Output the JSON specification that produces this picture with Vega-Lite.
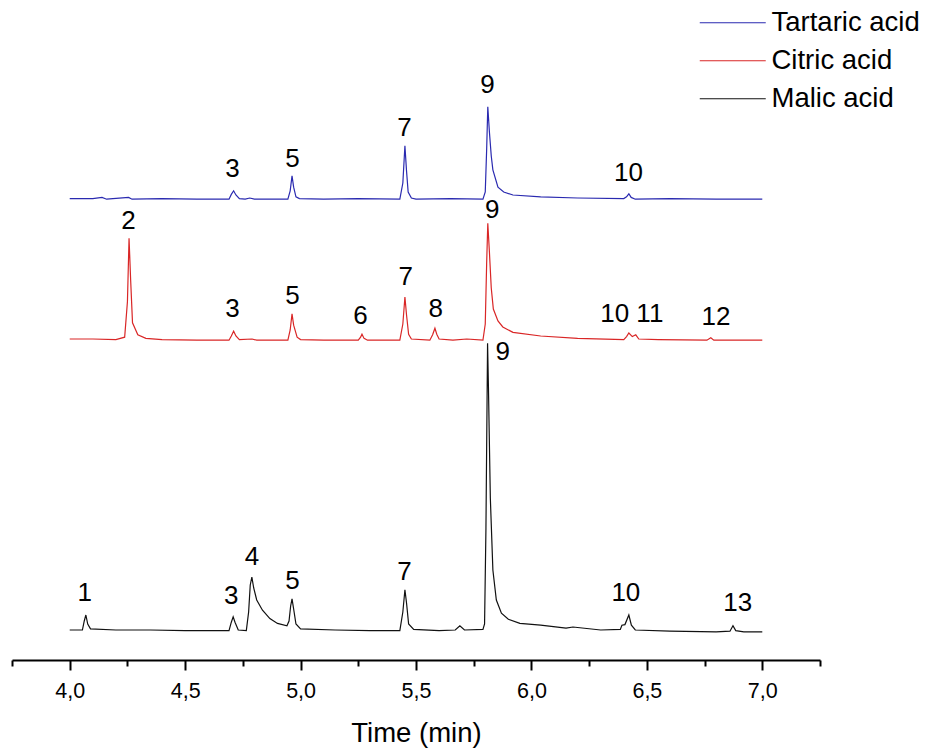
{
  "$schema": "https://vega.github.io/schema/vega-lite/v6.json",
  "width": 808,
  "height": 600,
  "autosize": {"type": "none"},
  "padding": {"left": 12, "top": 60, "right": 109, "bottom": 89},
  "background": "white",
  "config": {
    "view": {"stroke": null},
    "font": "Liberation Sans"
  },
  "datasets": {
    "traces": [
      {"acid": "Tartaric acid", "time": 4.00, "signal": 76.9},
      {"acid": "Tartaric acid", "time": 4.10, "signal": 76.9},
      {"acid": "Tartaric acid", "time": 4.14, "signal": 77.1},
      {"acid": "Tartaric acid", "time": 4.16, "signal": 76.8},
      {"acid": "Tartaric acid", "time": 4.255, "signal": 77.1},
      {"acid": "Tartaric acid", "time": 4.27, "signal": 76.8},
      {"acid": "Tartaric acid", "time": 4.40, "signal": 76.9},
      {"acid": "Tartaric acid", "time": 4.55, "signal": 76.8},
      {"acid": "Tartaric acid", "time": 4.69, "signal": 76.8},
      {"acid": "Tartaric acid", "time": 4.700, "signal": 77.6},
      {"acid": "Tartaric acid", "time": 4.710, "signal": 78.2},
      {"acid": "Tartaric acid", "time": 4.720, "signal": 77.5},
      {"acid": "Tartaric acid", "time": 4.735, "signal": 76.9},
      {"acid": "Tartaric acid", "time": 4.76, "signal": 76.8},
      {"acid": "Tartaric acid", "time": 4.78, "signal": 77.0},
      {"acid": "Tartaric acid", "time": 4.80, "signal": 76.8},
      {"acid": "Tartaric acid", "time": 4.945, "signal": 76.8},
      {"acid": "Tartaric acid", "time": 4.955, "signal": 78.2},
      {"acid": "Tartaric acid", "time": 4.963, "signal": 80.7},
      {"acid": "Tartaric acid", "time": 4.970, "signal": 78.8},
      {"acid": "Tartaric acid", "time": 4.980, "signal": 77.2},
      {"acid": "Tartaric acid", "time": 4.995, "signal": 76.9},
      {"acid": "Tartaric acid", "time": 5.10, "signal": 76.8},
      {"acid": "Tartaric acid", "time": 5.25, "signal": 76.9},
      {"acid": "Tartaric acid", "time": 5.43, "signal": 76.8},
      {"acid": "Tartaric acid", "time": 5.443, "signal": 79.5},
      {"acid": "Tartaric acid", "time": 5.452, "signal": 85.7},
      {"acid": "Tartaric acid", "time": 5.459, "signal": 81.5},
      {"acid": "Tartaric acid", "time": 5.466, "signal": 78.0},
      {"acid": "Tartaric acid", "time": 5.48, "signal": 77.0},
      {"acid": "Tartaric acid", "time": 5.50, "signal": 76.8},
      {"acid": "Tartaric acid", "time": 5.65, "signal": 76.9},
      {"acid": "Tartaric acid", "time": 5.79, "signal": 76.8},
      {"acid": "Tartaric acid", "time": 5.800, "signal": 78.0},
      {"acid": "Tartaric acid", "time": 5.806, "signal": 85.0},
      {"acid": "Tartaric acid", "time": 5.811, "signal": 92.2},
      {"acid": "Tartaric acid", "time": 5.818, "signal": 88.0},
      {"acid": "Tartaric acid", "time": 5.826, "signal": 84.0},
      {"acid": "Tartaric acid", "time": 5.833, "signal": 81.7},
      {"acid": "Tartaric acid", "time": 5.855, "signal": 78.8},
      {"acid": "Tartaric acid", "time": 5.88, "signal": 78.0},
      {"acid": "Tartaric acid", "time": 5.92, "signal": 77.5},
      {"acid": "Tartaric acid", "time": 6.04, "signal": 77.2},
      {"acid": "Tartaric acid", "time": 6.20, "signal": 77.0},
      {"acid": "Tartaric acid", "time": 6.40, "signal": 76.9},
      {"acid": "Tartaric acid", "time": 6.412, "signal": 77.2},
      {"acid": "Tartaric acid", "time": 6.422, "signal": 77.7},
      {"acid": "Tartaric acid", "time": 6.432, "signal": 77.1},
      {"acid": "Tartaric acid", "time": 6.45, "signal": 76.8},
      {"acid": "Tartaric acid", "time": 6.60, "signal": 76.9},
      {"acid": "Tartaric acid", "time": 6.80, "signal": 76.8},
      {"acid": "Tartaric acid", "time": 7.00, "signal": 76.8},

      {"acid": "Citric acid", "time": 4.00, "signal": 53.5},
      {"acid": "Citric acid", "time": 4.10, "signal": 53.5},
      {"acid": "Citric acid", "time": 4.20, "signal": 53.4},
      {"acid": "Citric acid", "time": 4.238, "signal": 53.8},
      {"acid": "Citric acid", "time": 4.250, "signal": 59.7},
      {"acid": "Citric acid", "time": 4.257, "signal": 70.3},
      {"acid": "Citric acid", "time": 4.264, "signal": 63.3},
      {"acid": "Citric acid", "time": 4.272, "signal": 56.2},
      {"acid": "Citric acid", "time": 4.295, "signal": 54.2},
      {"acid": "Citric acid", "time": 4.33, "signal": 53.6},
      {"acid": "Citric acid", "time": 4.40, "signal": 53.4},
      {"acid": "Citric acid", "time": 4.55, "signal": 53.3},
      {"acid": "Citric acid", "time": 4.69, "signal": 53.3},
      {"acid": "Citric acid", "time": 4.700, "signal": 54.0},
      {"acid": "Citric acid", "time": 4.710, "signal": 54.8},
      {"acid": "Citric acid", "time": 4.720, "signal": 54.0},
      {"acid": "Citric acid", "time": 4.735, "signal": 53.4},
      {"acid": "Citric acid", "time": 4.79, "signal": 53.5},
      {"acid": "Citric acid", "time": 4.81, "signal": 53.3},
      {"acid": "Citric acid", "time": 4.945, "signal": 53.3},
      {"acid": "Citric acid", "time": 4.955, "signal": 55.0},
      {"acid": "Citric acid", "time": 4.963, "signal": 57.7},
      {"acid": "Citric acid", "time": 4.970, "signal": 55.8},
      {"acid": "Citric acid", "time": 4.985, "signal": 53.8},
      {"acid": "Citric acid", "time": 5.00, "signal": 53.4},
      {"acid": "Citric acid", "time": 5.10, "signal": 53.3},
      {"acid": "Citric acid", "time": 5.25, "signal": 53.3},
      {"acid": "Citric acid", "time": 5.260, "signal": 53.8},
      {"acid": "Citric acid", "time": 5.266, "signal": 54.3},
      {"acid": "Citric acid", "time": 5.275, "signal": 53.6},
      {"acid": "Citric acid", "time": 5.29, "signal": 53.3},
      {"acid": "Citric acid", "time": 5.43, "signal": 53.3},
      {"acid": "Citric acid", "time": 5.443, "signal": 56.0},
      {"acid": "Citric acid", "time": 5.452, "signal": 60.5},
      {"acid": "Citric acid", "time": 5.459, "signal": 57.5},
      {"acid": "Citric acid", "time": 5.468, "signal": 54.3},
      {"acid": "Citric acid", "time": 5.48, "signal": 53.5},
      {"acid": "Citric acid", "time": 5.56, "signal": 53.3},
      {"acid": "Citric acid", "time": 5.572, "signal": 54.2},
      {"acid": "Citric acid", "time": 5.582, "signal": 55.3},
      {"acid": "Citric acid", "time": 5.590, "signal": 54.3},
      {"acid": "Citric acid", "time": 5.60, "signal": 53.5},
      {"acid": "Citric acid", "time": 5.66, "signal": 53.3},
      {"acid": "Citric acid", "time": 5.72, "signal": 53.5},
      {"acid": "Citric acid", "time": 5.79, "signal": 53.3},
      {"acid": "Citric acid", "time": 5.800, "signal": 56.0},
      {"acid": "Citric acid", "time": 5.806, "signal": 66.0},
      {"acid": "Citric acid", "time": 5.811, "signal": 72.8},
      {"acid": "Citric acid", "time": 5.818, "signal": 68.0},
      {"acid": "Citric acid", "time": 5.826, "signal": 62.0},
      {"acid": "Citric acid", "time": 5.835, "signal": 58.5},
      {"acid": "Citric acid", "time": 5.855, "signal": 56.5},
      {"acid": "Citric acid", "time": 5.876, "signal": 55.5},
      {"acid": "Citric acid", "time": 5.92, "signal": 54.6},
      {"acid": "Citric acid", "time": 6.04, "signal": 54.0},
      {"acid": "Citric acid", "time": 6.20, "signal": 53.6},
      {"acid": "Citric acid", "time": 6.40, "signal": 53.4},
      {"acid": "Citric acid", "time": 6.412, "signal": 53.9},
      {"acid": "Citric acid", "time": 6.422, "signal": 54.5},
      {"acid": "Citric acid", "time": 6.437, "signal": 53.9},
      {"acid": "Citric acid", "time": 6.452, "signal": 54.2},
      {"acid": "Citric acid", "time": 6.465, "signal": 53.5},
      {"acid": "Citric acid", "time": 6.55, "signal": 53.4},
      {"acid": "Citric acid", "time": 6.76, "signal": 53.3},
      {"acid": "Citric acid", "time": 6.777, "signal": 53.7},
      {"acid": "Citric acid", "time": 6.79, "signal": 53.3},
      {"acid": "Citric acid", "time": 7.00, "signal": 53.3},

      {"acid": "Malic acid", "time": 4.00, "signal": 5.0},
      {"acid": "Malic acid", "time": 4.055, "signal": 5.0},
      {"acid": "Malic acid", "time": 4.063, "signal": 6.5},
      {"acid": "Malic acid", "time": 4.070, "signal": 7.5},
      {"acid": "Malic acid", "time": 4.078, "signal": 6.0},
      {"acid": "Malic acid", "time": 4.09, "signal": 5.2},
      {"acid": "Malic acid", "time": 4.20, "signal": 5.0},
      {"acid": "Malic acid", "time": 4.35, "signal": 5.0},
      {"acid": "Malic acid", "time": 4.50, "signal": 4.9},
      {"acid": "Malic acid", "time": 4.69, "signal": 4.9},
      {"acid": "Malic acid", "time": 4.700, "signal": 6.3},
      {"acid": "Malic acid", "time": 4.708, "signal": 7.2},
      {"acid": "Malic acid", "time": 4.716, "signal": 6.3},
      {"acid": "Malic acid", "time": 4.73, "signal": 5.0},
      {"acid": "Malic acid", "time": 4.765, "signal": 4.9},
      {"acid": "Malic acid", "time": 4.775, "signal": 8.0},
      {"acid": "Malic acid", "time": 4.782, "signal": 12.5},
      {"acid": "Malic acid", "time": 4.789, "signal": 13.8},
      {"acid": "Malic acid", "time": 4.797, "signal": 12.0},
      {"acid": "Malic acid", "time": 4.81, "signal": 10.0},
      {"acid": "Malic acid", "time": 4.835, "signal": 8.3},
      {"acid": "Malic acid", "time": 4.867, "signal": 6.9},
      {"acid": "Malic acid", "time": 4.90, "signal": 6.1},
      {"acid": "Malic acid", "time": 4.941, "signal": 5.7},
      {"acid": "Malic acid", "time": 4.950, "signal": 6.5},
      {"acid": "Malic acid", "time": 4.957, "signal": 9.0},
      {"acid": "Malic acid", "time": 4.963, "signal": 10.2},
      {"acid": "Malic acid", "time": 4.970, "signal": 8.5},
      {"acid": "Malic acid", "time": 4.980, "signal": 6.0},
      {"acid": "Malic acid", "time": 5.00, "signal": 5.2},
      {"acid": "Malic acid", "time": 5.15, "signal": 5.0},
      {"acid": "Malic acid", "time": 5.30, "signal": 4.9},
      {"acid": "Malic acid", "time": 5.43, "signal": 4.9},
      {"acid": "Malic acid", "time": 5.443, "signal": 8.0},
      {"acid": "Malic acid", "time": 5.452, "signal": 11.7},
      {"acid": "Malic acid", "time": 5.459, "signal": 9.5},
      {"acid": "Malic acid", "time": 5.468, "signal": 6.0},
      {"acid": "Malic acid", "time": 5.49, "signal": 5.1},
      {"acid": "Malic acid", "time": 5.60, "signal": 4.9},
      {"acid": "Malic acid", "time": 5.67, "signal": 5.0},
      {"acid": "Malic acid", "time": 5.690, "signal": 5.7},
      {"acid": "Malic acid", "time": 5.71, "signal": 5.0},
      {"acid": "Malic acid", "time": 5.79, "signal": 5.1},
      {"acid": "Malic acid", "time": 5.797, "signal": 6.0},
      {"acid": "Malic acid", "time": 5.803, "signal": 22.0},
      {"acid": "Malic acid", "time": 5.810, "signal": 52.8},
      {"acid": "Malic acid", "time": 5.814, "signal": 45.0},
      {"acid": "Malic acid", "time": 5.822, "signal": 27.0},
      {"acid": "Malic acid", "time": 5.833, "signal": 15.0},
      {"acid": "Malic acid", "time": 5.848, "signal": 10.0},
      {"acid": "Malic acid", "time": 5.870, "signal": 7.8},
      {"acid": "Malic acid", "time": 5.90, "signal": 6.8},
      {"acid": "Malic acid", "time": 5.95, "signal": 6.1},
      {"acid": "Malic acid", "time": 6.04, "signal": 5.8},
      {"acid": "Malic acid", "time": 6.15, "signal": 5.3},
      {"acid": "Malic acid", "time": 6.18, "signal": 5.5},
      {"acid": "Malic acid", "time": 6.30, "signal": 5.0},
      {"acid": "Malic acid", "time": 6.385, "signal": 5.1},
      {"acid": "Malic acid", "time": 6.392, "signal": 5.8},
      {"acid": "Malic acid", "time": 6.405, "signal": 5.9},
      {"acid": "Malic acid", "time": 6.422, "signal": 7.5},
      {"acid": "Malic acid", "time": 6.433, "signal": 5.8},
      {"acid": "Malic acid", "time": 6.45, "signal": 5.0},
      {"acid": "Malic acid", "time": 6.60, "signal": 4.8},
      {"acid": "Malic acid", "time": 6.80, "signal": 4.7},
      {"acid": "Malic acid", "time": 6.860, "signal": 4.8},
      {"acid": "Malic acid", "time": 6.873, "signal": 5.7},
      {"acid": "Malic acid", "time": 6.885, "signal": 4.9},
      {"acid": "Malic acid", "time": 6.92, "signal": 4.7},
      {"acid": "Malic acid", "time": 7.00, "signal": 4.7}
    ],
    "peaks": [
      {"peak": "3", "time": 4.705, "signal": 81.8},
      {"peak": "5", "time": 4.965, "signal": 83.5},
      {"peak": "7", "time": 5.45, "signal": 88.7},
      {"peak": "9", "time": 5.81, "signal": 95.8},
      {"peak": "10", "time": 6.42, "signal": 81.2},
      {"peak": "2", "time": 4.255, "signal": 73.2},
      {"peak": "3", "time": 4.705, "signal": 58.5},
      {"peak": "5", "time": 4.965, "signal": 60.7},
      {"peak": "6", "time": 5.26, "signal": 57.3},
      {"peak": "7", "time": 5.455, "signal": 63.8},
      {"peak": "8", "time": 5.585, "signal": 58.5},
      {"peak": "9", "time": 5.83, "signal": 75.0},
      {"peak": "10", "time": 6.361, "signal": 57.7},
      {"peak": "11", "time": 6.513, "signal": 57.7},
      {"peak": "12", "time": 6.799, "signal": 57.2},
      {"peak": "1", "time": 4.065, "signal": 11.2},
      {"peak": "3", "time": 4.70, "signal": 10.7},
      {"peak": "4", "time": 4.79, "signal": 17.2},
      {"peak": "5", "time": 4.965, "signal": 13.2},
      {"peak": "7", "time": 5.45, "signal": 14.7},
      {"peak": "9", "time": 5.876, "signal": 51.3},
      {"peak": "10", "time": 6.409, "signal": 11.2},
      {"peak": "13", "time": 6.894, "signal": 9.5}
    ]
  },
  "layer": [
    {
      "data": {"name": "traces"},
      "mark": {"type": "line", "strokeWidth": 1.2, "interpolate": "linear"},
      "encoding": {
        "x": {
          "field": "time",
          "type": "quantitative",
          "scale": {"domain": [3.75, 7.25], "nice": false, "zero": false},
          "axis": {
            "title": "Time (min)",
            "titleFont": "Liberation Sans",
            "titleFontSize": 27.5,
            "titleFontWeight": "normal",
            "titleColor": "black",
            "titlePadding": 18,
            "values": [3.75, 4, 4.25, 4.5, 4.75, 5, 5.25, 5.5, 5.75, 6, 6.25, 6.5, 6.75, 7, 7.25],
            "labelExpr": "datum.value % 0.5 == 0 ? replace(format(datum.value, '.1f'), '.', ',') : ''",
            "labelFont": "Liberation Sans",
            "labelFontSize": 21.5,
            "labelColor": "black",
            "labelPadding": 10,
            "labelFlush": false,
            "labelOverlap": false,
            "domainColor": "black",
            "domainWidth": 2,
            "tickColor": "black",
            "tickWidth": 2,
            "tickSize": {"condition": {"test": "datum.value % 0.5 == 0", "value": 10}, "value": 6},
            "grid": false
          }
        },
        "y": {
          "field": "signal",
          "type": "quantitative",
          "scale": {"domain": [0, 100], "nice": false},
          "axis": null
        },
        "color": {
          "field": "acid",
          "type": "nominal",
          "scale": {
            "domain": ["Tartaric acid", "Citric acid", "Malic acid"],
            "range": ["#2a2ab0", "#d92626", "#111111"]
          },
          "legend": {
            "title": null,
            "orient": "none",
            "legendX": 707,
            "legendY": -51,
            "padding": 0,
            "symbolType": "M-3,0H3",
            "symbolSize": 484,
            "symbolStrokeWidth": 1.2,
            "labelFont": "Liberation Sans",
            "labelFontSize": 27.5,
            "labelColor": "black",
            "labelOffset": 25,
            "rowPadding": 9,
            "labelLimit": 400
          }
        },
        "detail": {"field": "acid"}
      }
    },
    {
      "data": {"name": "peaks"},
      "mark": {"type": "text", "font": "Liberation Sans", "fontSize": 26, "color": "black", "align": "center", "baseline": "middle"},
      "encoding": {
        "x": {"field": "time", "type": "quantitative"},
        "y": {"field": "signal", "type": "quantitative"},
        "text": {"field": "peak"}
      }
    }
  ]
}
